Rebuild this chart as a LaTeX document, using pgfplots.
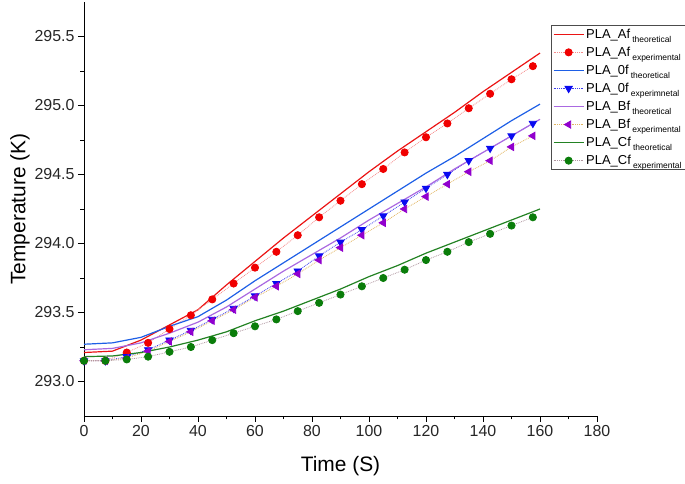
\documentclass[border=0pt]{standalone}
\usepackage{fontspec}
\setmainfont{Liberation Sans}
\usepackage{pgfplots}
\pgfplotsset{compat=1.18}

\definecolor{cRed}{RGB}{235,20,20}
\definecolor{cRedM}{RGB}{240,0,0}
\definecolor{cRedD}{RGB}{245,140,140}
\definecolor{cBlue}{RGB}{30,95,230}
\definecolor{cBlueM}{RGB}{10,10,240}
\definecolor{cBlueD}{RGB}{60,60,240}
\definecolor{cPur}{RGB}{170,105,225}
\definecolor{cPurM}{RGB}{145,0,205}
\definecolor{cPurD}{RGB}{225,180,95}
\definecolor{cGreen}{RGB}{35,130,35}
\definecolor{cGreenM}{RGB}{10,125,10}
\definecolor{cGreenD}{RGB}{175,150,160}

\newcommand\sub[1]{\,\raisebox{-4bp}{\fontsize{8.5}{9}\selectfont #1}}

\begin{document}
\begin{tikzpicture}
\path[use as bounding box] (-84bp,-68bp) rectangle (601bp,416bp);
\begin{axis}[
  scale only axis,
  width=513bp, height=414bp,
  at={(0,0)}, anchor=south west,
  xmin=0, xmax=180, ymin=292.75, ymax=295.75,
  axis x line*=bottom, axis y line*=left,
  axis line style={-, line width=0.9bp, black},
  xtick={0,20,...,180}, minor x tick num=1,
  xticklabels={0,20,40,60,80,100,120,140,160,180},
  ytick={293,293.5,294,294.5,295,295.5}, minor y tick num=1,
  yticklabels={293.0,293.5,294.0,294.5,295.0,295.5},
  tick align=outside,
  major tick length=6bp, minor tick length=3.5bp,
  tick style={black, line width=0.8bp},
  ticklabel style={font=\fontsize{16}{18}\selectfont, text=black!85},
  xlabel={Time (S)}, ylabel={Temperature (K)},
  every axis x label/.style={at={(axis description cs:0.5,-0.121)}, anchor=center, font=\fontsize{21}{24}\selectfont},
  every axis y label/.style={at={(axis description cs:-0.1248,0.5)}, anchor=center, rotate=90, font=\fontsize{21}{24}\selectfont},
  legend style={at={(rel axis cs:0.911,0.944)}, anchor=north west,
    font=\fontsize{13}{15}\selectfont, draw=gray!60!black, fill=white,
    row sep=3.2bp, inner sep=1.5bp},
  legend cell align=left,
  legend image code/.code={\draw[mark repeat=2,mark phase=2,#1] plot coordinates {(-2bp,0bp) (13bp,0bp) (28bp,0bp)};},
]
% Af
\addplot[cRed, line width=1.2bp] coordinates {
(0,293.21) (10,293.22) (20,293.30) (30,293.41) (40,293.52) (50,293.70) (60,293.87) (70,294.04) (80,294.20) (90,294.36) (100,294.52) (110,294.67) (120,294.81) (130,294.95) (140,295.10) (150,295.24) (160,295.38)};
\addlegendentry{PLA\_Af\sub{theoretical}}
\addplot[cRedD, densely dotted, line width=0.8bp, mark=*, mark size=3.6bp, mark options={solid, fill=cRedM, draw=cRedM}] coordinates {
(0,293.15) (7.5,293.15) (15,293.21) (22.5,293.28) (30,293.38) (37.5,293.48) (45,293.595) (52.5,293.71) (60,293.825) (67.5,293.94) (75,294.06) (82.5,294.19) (90,294.31) (97.5,294.43) (105,294.54) (112.5,294.66) (120,294.77) (127.5,294.87) (135,294.98) (142.5,295.085) (150,295.19) (157.5,295.285)};
\addlegendentry{PLA\_Af\sub{experimental}}
% 0f
\addplot[cBlue, line width=1.2bp] coordinates {
(0,293.27) (10,293.28) (20,293.32) (30,293.40) (40,293.47) (50,293.59) (60,293.73) (70,293.86) (80,293.99) (90,294.12) (100,294.25) (110,294.38) (120,294.51) (130,294.63) (140,294.76) (150,294.89) (160,295.01)};
\addlegendentry{PLA\_0f\sub{theoretical}}
\addplot[cBlueD, densely dotted, line width=0.8bp, mark=triangle*, mark size=4.2bp, mark options={solid, rotate=180, fill=cBlueM, draw=cBlueM}] coordinates {
(0,293.15) (7.5,293.15) (15,293.18) (22.5,293.23) (30,293.30) (37.5,293.37) (45,293.45) (52.5,293.53) (60,293.62) (67.5,293.71) (75,293.80) (82.5,293.91) (90,294.01) (97.5,294.10) (105,294.20) (112.5,294.30) (120,294.40) (127.5,294.50) (135,294.60) (142.5,294.69) (150,294.78) (157.5,294.87)};
\addlegendentry{PLA\_0f\sub{experimnetal}}
% Bf
\addplot[cPur, line width=1.2bp] coordinates {
(0,293.23) (10,293.24) (20,293.28) (30,293.35) (40,293.43) (50,293.54) (60,293.67) (70,293.80) (80,293.92) (90,294.04) (100,294.17) (110,294.29) (120,294.41) (130,294.54) (140,294.66) (150,294.78) (160,294.90)};
\addlegendentry{PLA\_Bf\sub{theoretical}}
\addplot[cPurD, densely dotted, line width=0.8bp, mark=triangle*, mark size=4.2bp, mark options={solid, rotate=90, fill=cPurM, draw=cPurM}] coordinates {
(0,293.15) (7.5,293.15) (15,293.17) (22.5,293.22) (30,293.29) (37.5,293.36) (45,293.44) (52.5,293.52) (60,293.61) (67.5,293.69) (75,293.78) (82.5,293.88) (90,293.97) (97.5,294.06) (105,294.15) (112.5,294.25) (120,294.34) (127.5,294.43) (135,294.52) (142.5,294.60) (150,294.70) (157.5,294.78)};
\addlegendentry{PLA\_Bf\sub{experimental}}
% Cf
\addplot[cGreen, line width=1.2bp] coordinates {
(0,293.18) (10,293.185) (20,293.21) (30,293.25) (40,293.30) (50,293.36) (60,293.44) (70,293.51) (80,293.59) (90,293.67) (100,293.76) (110,293.84) (120,293.93) (130,294.01) (140,294.09) (150,294.17) (160,294.25)};
\addlegendentry{PLA\_Cf\sub{theoretical}}
\addplot[cGreenD, densely dotted, line width=0.8bp, mark=*, mark size=3.6bp, mark options={solid, fill=cGreenM, draw=cGreenM}] coordinates {
(0,293.15) (7.5,293.15) (15,293.16) (22.5,293.18) (30,293.215) (37.5,293.25) (45,293.30) (52.5,293.35) (60,293.40) (67.5,293.45) (75,293.51) (82.5,293.57) (90,293.63) (97.5,293.69) (105,293.75) (112.5,293.81) (120,293.88) (127.5,293.94) (135,294.01) (142.5,294.07) (150,294.13) (157.5,294.19)};
\addlegendentry{PLA\_Cf\sub{experimental}}
\end{axis}
\end{tikzpicture}
\end{document}
